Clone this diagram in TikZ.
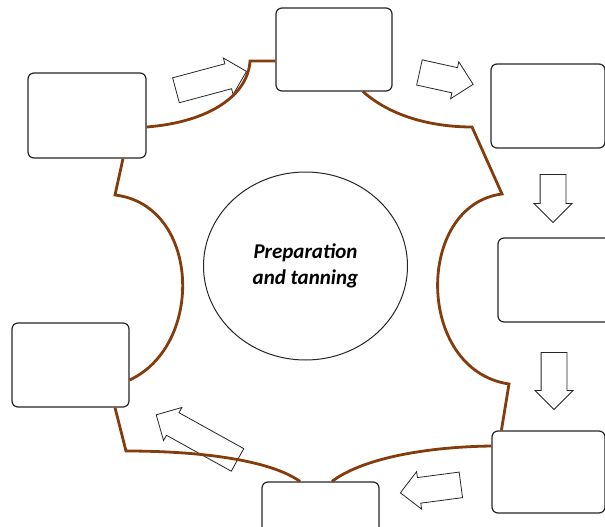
\documentclass[tikz,border=0pt]{standalone}
\usepackage{fontspec}
\setmainfont{Carlito}
\usetikzlibrary{shapes.geometric,shapes.arrows}
\definecolor{hide}{HTML}{843C0C}
\definecolor{edge}{HTML}{262626}

\begin{document}
\begin{tikzpicture}[x=1pt, y=-1pt,
  stage/.style={draw=edge, line width=1.2pt, rounded corners=6pt, fill=white, minimum width=117pt, minimum height=84pt, inner sep=0pt},
  flow/.style={single arrow, draw=edge, line width=0.8pt, fill=white, inner xsep=0pt, inner ysep=12.5pt, single arrow head extend=6pt, single arrow tip angle=90},
  rim/.style={draw=hide, line width=2.8pt}
]
\useasboundingbox (0,0) rectangle (605,527);

\node[ellipse, draw=edge, line width=1pt, minimum width=204pt, minimum height=188pt, inner sep=0pt, align=center,
  font=\fontsize{21}{26}\selectfont\bfseries\itshape] (core) at (305.5,266) {Preparation\\and tanning};

\node[stage, minimum width=118pt, minimum height=85pt] (s1) at (87,115.5) {};
\node[stage, minimum width=116pt, minimum height=83pt] (s2) at (334,49.5) {};
\node[stage, minimum width=114pt] (s3) at (548,106) {};
\node[stage, minimum width=114pt] (s4) at (555,280) {};
\node[stage, minimum width=113pt, minimum height=82pt] (s5) at (548.5,472) {};
\node[stage] (s6) at (320.5,524) {};
\node[stage] (s7) at (70.5,365) {};

\node[flow, minimum height=73pt, rotate=15] (f1) at (205,82.5) {};
\node[flow, minimum height=55pt, rotate=-12.5] (f2) at (440,77) {};
\node[flow, minimum height=48pt, rotate=-90] (f3) at (553,192) {};
\node[flow, minimum height=57pt, rotate=-90] (f4) at (554,374.5) {};
\node[flow, minimum height=61pt, rotate=187.5] (f5) at (437,488) {};
\node[flow, minimum height=93pt, rotate=151] (f6) at (202.5,440.5) {};

\draw[rim] ([yshift=-11.5pt]s1.east) .. controls (210,122) and (248,95) .. (250,61) -- ([yshift=-11.5pt]s2.west);
\draw[rim] ([xshift=29pt]s2.south) .. controls (395,120) and (440,127) .. (472,127) -- (502,194)
  .. controls (415,205) and (415,370) .. (509,384) -- ([xshift=10pt]s5.north west);
\draw[rim] ([yshift=26pt]s5.west) .. controls (420,447) and (360,460) .. ([xshift=11.5pt]s6.north);
\draw[rim] ([xshift=-20.5pt]s6.north) .. controls (270,460) and (200,451) .. (126,451) -- ([xshift=44.5pt]s7.south);
\draw[rim] ([yshift=-15pt]s7.east) .. controls (205,345) and (200,205) .. (115,195) -- ([xshift=36pt]s1.south);
\end{tikzpicture}
\end{document}
